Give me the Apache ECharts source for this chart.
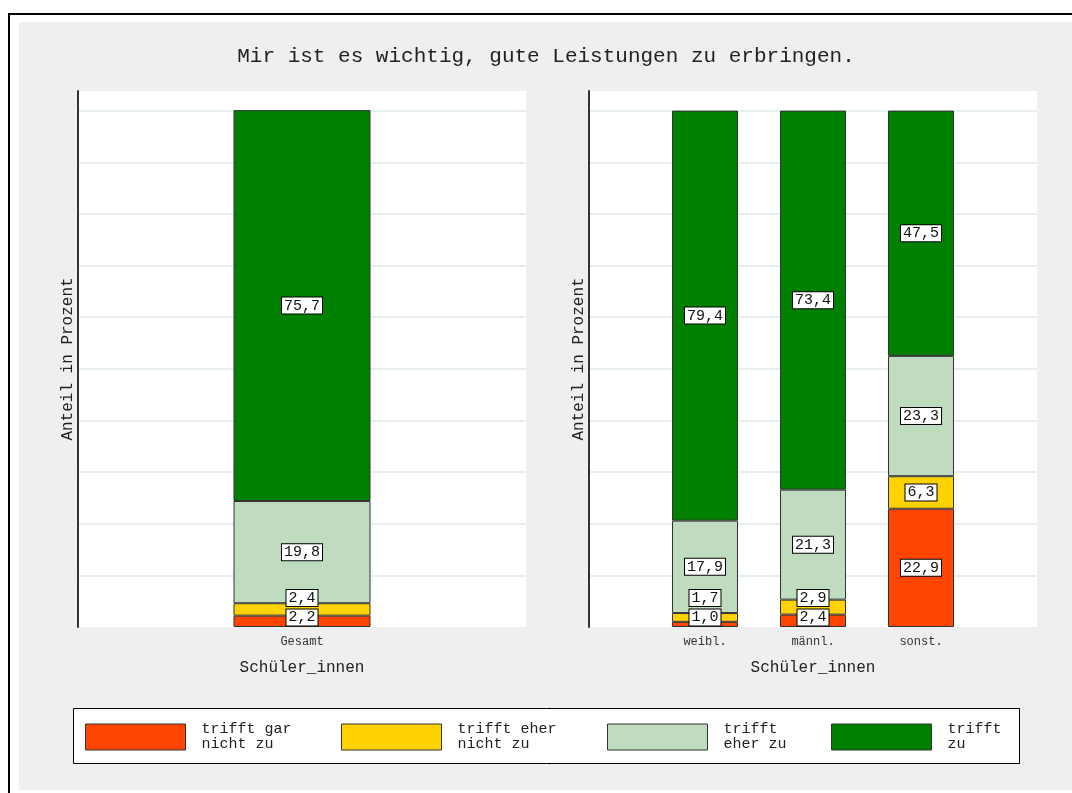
<!DOCTYPE html>
<html><head><meta charset="utf-8">
<script src="https://cdn.jsdelivr.net/npm/echarts@6/dist/echarts.min.js"></script>
<style>html,body{margin:0;padding:0;background:#fff}#c{width:1072px;height:793px}</style>
</head><body><div id="c"></div>
<script>
// ---- data ----
const titleText = 'Mir ist es wichtig, gute Leistungen zu erbringen.';
const responseLevels = ['trifft gar nicht zu', 'trifft eher nicht zu', 'trifft eher zu', 'trifft zu'];
const legendLines = ['trifft gar\nnicht zu', 'trifft eher\nnicht zu', 'trifft\neher zu', 'trifft\nzu'];
const levelColors = ['#ff4500', '#ffd200', '#c0dcc0', '#008000'];
const leftCategories = ['Gesamt'];
const rightCategories = ['weibl.', 'männl.', 'sonst.'];
// values per response level (rows) and category (columns)
const gesamtValues = [
  [2.2],
  [2.4],
  [19.8],
  [75.7]
];
const groupValues = [
  [1.0, 2.4, 22.9],
  [1.7, 2.9, 6.3],
  [17.9, 21.3, 23.3],
  [79.4, 73.4, 47.5]
];
const axisTitleX = 'Schüler_innen';
const axisTitleY = 'Anteil in Prozent';
const yTickStep = 10;
const yMin = 0, yMax = 103.8;

// ---- styling ----
const MONO = 'Liberation Mono';
const TXT = '#222';

function fmt(v) { return v.toFixed(1).replace('.', ','); }

function stackedLabelShift(p) {
  const isLeft = p.seriesIndex < 4;
  const level = p.seriesIndex % 4;
  const src = isLeft ? gesamtValues : groupValues;
  const vals = src.map(a => a[p.dataIndex]);
  const r = p.rect;
  const top = Math.min(r.y, r.y + r.height);
  const h = Math.abs(r.height);
  const ppu = h / vals[level];
  let below = 0;
  for (let j = 0; j < level; j++) below += vals[j];
  const axisBottom = top + h + below * ppu;
  const lh = p.labelRect.height;
  let prevTop = axisBottom - 0.5;
  let cum = 0, c = 0;
  for (let j = 0; j <= level; j++) {
    c = axisBottom - (cum + vals[j] / 2) * ppu;
    c = Math.min(c, prevTop - lh / 2);
    prevTop = c - lh / 2 - 1.5;
    cum += vals[j];
  }
  return { dy: c - (top + h / 2) };
}

const labelStyle = {
  show: true,
  position: 'inside',
  formatter: p => fmt(p.value),
  fontFamily: MONO,
  fontSize: 15,
  lineHeight: 15,
  color: '#111',
  backgroundColor: '#fff',
  borderColor: '#000',
  borderWidth: 1,
  padding: [1, 2, 0, 2],
  textBorderWidth: 0
};

const series = [];
responseLevels.forEach((name, l) => {
  series.push({
    type: 'bar', name, xAxisIndex: 0, yAxisIndex: 0, stack: 'gesamt',
    barWidth: 137, data: gesamtValues[l],
    itemStyle: { color: levelColors[l], borderColor: '#333', borderWidth: 1 },
    label: labelStyle, labelLayout: stackedLabelShift,
    emphasis: { disabled: true }
  });
});
responseLevels.forEach((name, l) => {
  series.push({
    type: 'bar', name, xAxisIndex: 2, yAxisIndex: 2, stack: 'gruppen',
    barWidth: 66, data: groupValues[l],
    itemStyle: { color: levelColors[l], borderColor: '#333', borderWidth: 1 },
    label: labelStyle, labelLayout: stackedLabelShift,
    emphasis: { disabled: true }
  });
});

function valueAxis(gi, visible) {
  if (!visible) return { gridIndex: gi, type: 'value', min: yMin, max: yMax, interval: yTickStep, show: false };
  return {
    gridIndex: gi, type: 'value', min: yMin, max: yMax, interval: yTickStep,
    axisLine: { show: true, lineStyle: { color: '#333', width: 2 } },
    axisTick: { show: false }, axisLabel: { show: false },
    splitLine: { show: true, showMinLine: false, showMaxLine: false, lineStyle: { color: '#e6eef0', width: 2 } },
    name: axisTitleY, nameLocation: 'middle', nameGap: 2, nameRotate: 90,
    nameTextStyle: { fontFamily: MONO, fontSize: 16, color: TXT }
  };
}
function catAxis(gi, cats, visible) {
  if (!visible) return { gridIndex: gi, type: 'category', data: cats, show: false };
  return {
    gridIndex: gi, type: 'category', data: cats,
    axisLine: { show: false }, axisTick: { show: false },
    axisLabel: { margin: 9, fontFamily: MONO, fontSize: 12, color: '#333' },
    name: axisTitleX, nameLocation: 'middle', nameGap: 33,
    nameTextStyle: { fontFamily: MONO, fontSize: 16, color: TXT }
  };
}

const legendX = [85, 341, 607, 831];
const legends = responseLevels.map((name, i) => ({
  left: legendX[i], top: 722, padding: 0, orient: 'horizontal',
  data: [{ name, icon: 'rect' }],
  selectedMode: false,
  itemWidth: 100, itemHeight: 26,
  itemStyle: { borderColor: '#333', borderWidth: 1 },
  formatter: n => legendLines[responseLevels.indexOf(n)],
  textStyle: { fontFamily: MONO, fontSize: 15, lineHeight: 15, color: TXT, padding: [0, 0, 0, 11] }
}));

const option = {
  animation: false,
  backgroundColor: '#fff',
  graphic: [
    { type: 'rect', z: -20, silent: true, shape: { x: 9, y: 14, width: 1100, height: 820 }, style: { fill: '#fff', stroke: '#000', lineWidth: 2 } },
    { type: 'rect', z: -19, silent: true, shape: { x: 19, y: 22, width: 1080, height: 768 }, style: { fill: '#efefef' } },
    { type: 'rect', z: -18, silent: true, shape: { x: 73.5, y: 708.5, width: 946, height: 55 }, style: { fill: '#fff', stroke: '#000', lineWidth: 1 } },
    { type: 'text', z: 10, silent: true, x: 546, y: 56,
      style: { text: titleText, fontFamily: MONO, fontSize: 21, fill: TXT, textAlign: 'center', textVerticalAlign: 'middle' } }
  ],
  grid: [
    { left: 78, top: 91, width: 448, height: 536, show: true, backgroundColor: '#fff', borderWidth: 0 },
    { left: 589, top: 91, width: 448, height: 536, show: true, backgroundColor: '#fff', borderWidth: 0 },
    { left: 651, top: 91, width: 324, height: 536, show: false }
  ],
  xAxis: [catAxis(0, leftCategories, true), catAxis(1, rightCategories, false), catAxis(2, rightCategories, true)],
  yAxis: [valueAxis(0, true), valueAxis(1, true), valueAxis(2, false)],
  legend: legends,
  series
};

const chart = echarts.init(document.getElementById('c'), null, { renderer: 'canvas' });
chart.setOption(option);
</script>
</body></html>
